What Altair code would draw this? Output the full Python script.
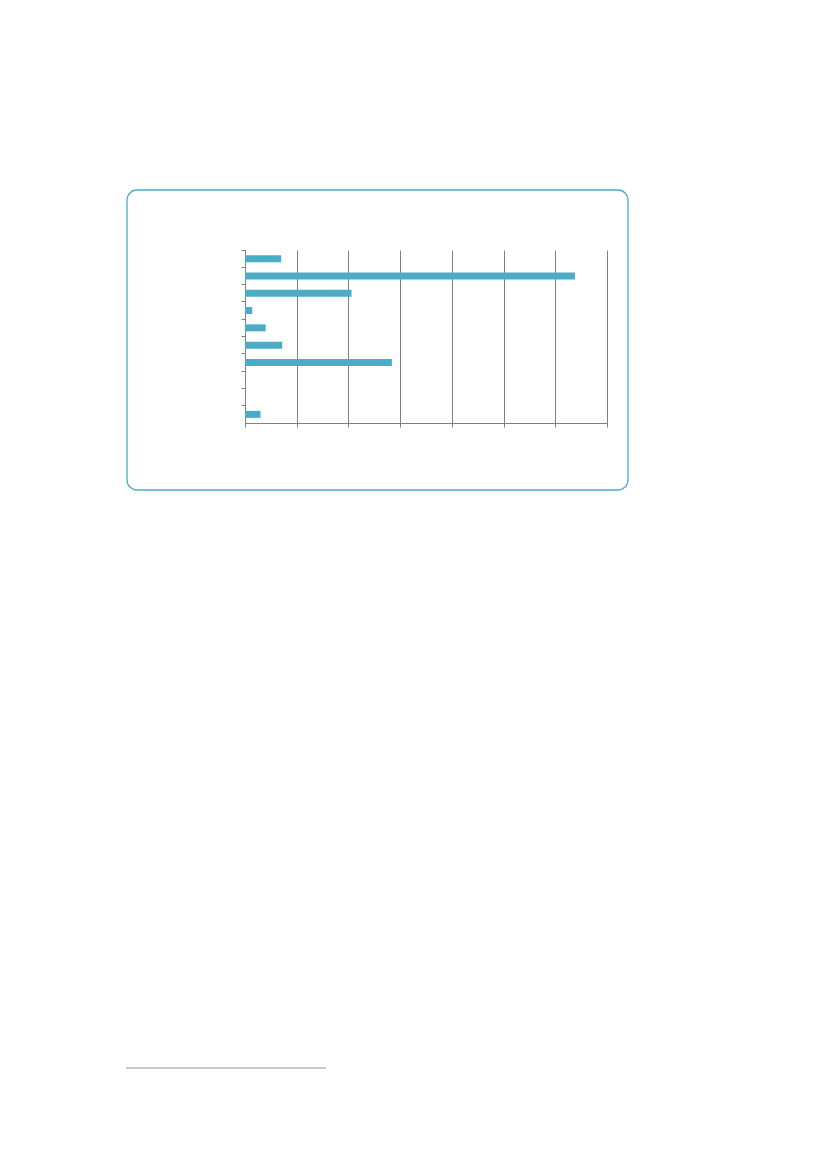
import altair as alt
import pandas as pd

categories = ["Category 1", "Category 2", "Category 3", "Category 4", "Category 5",
              "Category 6", "Category 7", "Category 8", "Category 9", "Category 10"]
values = [3.5, 31.9, 10.3, 0.7, 2.0, 3.6, 14.2, 0, 0, 1.5]
x_ticks = [0, 5, 10, 15, 20, 25, 30, 35]

df = pd.DataFrame({"category": categories, "value": values})

BAR = "#4BACC6"
GRID = "#808080"

bars = alt.Chart(df).mark_bar(size=7, color=BAR).encode(
    x=alt.X("value:Q",
            scale=alt.Scale(domain=[0, 35], nice=False),
            axis=alt.Axis(values=x_ticks, labels=False, title=None, grid=True,
                          gridColor=GRID, gridWidth=1, domainColor=GRID,
                          tickColor=GRID, tickSize=4)),
    y=alt.Y("category:N", sort=None,
            scale=alt.Scale(paddingInner=0, paddingOuter=0),
            axis=alt.Axis(labels=False, title=None, grid=False, bandPosition=0,
                          domainColor=GRID, tickColor=GRID, tickSize=4)),
)

frame = alt.Chart(alt.Data(values=[{}])).mark_rect(
    fill="transparent", stroke="#4BACC6", strokeWidth=1.3, cornerRadius=10
).encode(
    x=alt.value(-118), x2=alt.value(383), y=alt.value(-60), y2=alt.value(240)
)

footnote = alt.Chart(alt.Data(values=[{}])).mark_rule(
    color="#999999", strokeWidth=1
).encode(
    x=alt.value(-119), x2=alt.value(81), y=alt.value(818)
)

chart = alt.layer(frame, bars, footnote).properties(
    width=362, height=173,
    padding={"left": 237, "top": 242, "right": 200, "bottom": 700},
    autosize=alt.AutoSizeParams(type="none"),
).configure_view(stroke=None)

chart.save("out.html", embed_options={"renderer": "svg", "actions": False})
